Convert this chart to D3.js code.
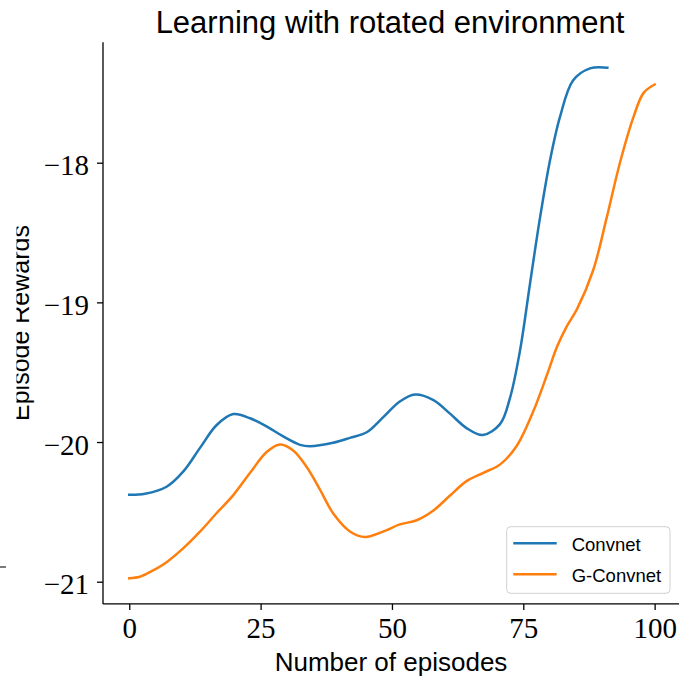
<!DOCTYPE html>
<html>
<head>
<meta charset="utf-8">
<script src="https://cdn.jsdelivr.net/npm/d3@7"></script>
<style>
  html, body { margin: 0; padding: 0; background: #fff; }
  svg { display: block; }
</style>
</head>
<body>
<div id="chart"></div>
<script>
// ---- Data ----
const convnetEpisodes = [0, 3, 7.1, 10.3, 13.5, 16.6, 19.8, 23, 26.2, 29.3, 32.5, 34.4, 38.8, 42, 45.2, 48.4, 51.5, 54.4, 57.9, 61, 64.2, 67.3, 70.6, 72.5, 74.4, 76.3, 78.2, 80.1, 82, 84.5, 87.7, 91];
const convnetRewards  = [-20.377, -20.37, -20.32, -20.21, -20.04, -19.88, -19.80, -19.83, -19.89, -19.96, -20.02, -20.03, -20.005, -19.97, -19.93, -19.82, -19.71, -19.66, -19.70, -19.795, -19.90, -19.95, -19.87, -19.68, -19.34, -18.86, -18.39, -17.98, -17.67, -17.41, -17.325, -17.32];

const gconvEpisodes = [0, 2, 4, 7.1, 10.3, 13.5, 16.6, 19.8, 23, 26.2, 28.7, 31.2, 33.8, 36.3, 38.8, 42, 44.9, 48.4, 51.5, 54.7, 57.9, 61, 64.2, 67.4, 70.6, 73.7, 76.9, 79.5, 81.4, 83.3, 85.2, 88.3, 90.9, 93.4, 96, 97.9, 100];
const gconvRewards  = [-20.976, -20.965, -20.93, -20.86, -20.76, -20.64, -20.51, -20.38, -20.22, -20.07, -20.017, -20.06, -20.18, -20.34, -20.51, -20.64, -20.68, -20.64, -20.59, -20.56, -20.49, -20.385, -20.28, -20.22, -20.16, -20.03, -19.78, -19.52, -19.32, -19.17, -19.05, -18.77, -18.39, -18.0, -17.67, -17.50, -17.44];

const seriesNames  = ["Convnet", "G-Convnet"];
const seriesColors = ["#1f77b4", "#ff7f0e"];
const xTicks = [0, 25, 50, 75, 100];
const yTicks = [-18, -19, -20, -21];

const titleText = "Learning with rotated environment";
const xLabelText = "Number of episodes";
const yLabelText = "Episode Rewards";

// ---- Layout ----
const W = 679, H = 680;
const x = d3.scaleLinear().domain([-5, 105]).range([103, 680.9]);
const y = d3.scaleLinear().domain([-21, -18]).range([581.7, 162.7]);
const yLo = -21.159, yHi = -17.137;

const svg = d3.select("#chart").append("svg")
  .attr("width", W).attr("height", H);

const sans = "'Liberation Sans', Arial, sans-serif";
const serif = "'Liberation Serif', 'Times New Roman', serif";

// Title
svg.append("text")
  .attr("x", 390).attr("y", 33)
  .attr("text-anchor", "middle")
  .attr("font-family", sans).attr("font-size", 31)
  .attr("fill", "#000")
  .text(titleText);

// Lines
const series = [
  { name: seriesNames[0], color: seriesColors[0], data: convnetEpisodes.map((e, i) => [e, convnetRewards[i]]) },
  { name: seriesNames[1], color: seriesColors[1], data: gconvEpisodes.map((e, i) => [e, gconvRewards[i]]) }
];
const line = d3.line()
  .x(d => x(d[0])).y(d => y(d[1]))
  .curve(d3.curveCatmullRom.alpha(0.5));

svg.append("g").selectAll("path").data(series).join("path")
  .attr("d", d => line(d.data))
  .attr("fill", "none")
  .attr("stroke", d => d.color)
  .attr("stroke-width", 2.5)
  .attr("stroke-linecap", "square")
  .attr("stroke-linejoin", "round");

// Axes
const yTop = y(yHi), yBot = y(yLo);
const xAxis = d3.axisBottom(x).tickValues(xTicks).tickSize(6).tickPadding(6).tickFormat(d3.format("d"));
const gx = svg.append("g").attr("transform", `translate(0,${yBot})`).call(xAxis);
gx.select(".domain").attr("d", `M${x(-5)},0H${W + 2}`).attr("stroke", "#000").attr("stroke-width", 1.3);
gx.selectAll(".tick line").attr("stroke", "#000").attr("stroke-width", 1.3);
gx.selectAll(".tick text")
  .attr("font-family", serif).attr("font-size", 29).attr("fill", "#000")
  .attr("dy", null).attr("y", 34);

const yAxis = d3.axisLeft(y).tickValues(yTicks).tickSize(6).tickPadding(8)
  .tickFormat(d => d < 0 ? "\u2212" + Math.abs(d) : String(d));
const gy = svg.append("g").attr("transform", `translate(${x(-5)},0)`).call(yAxis);
gy.select(".domain").attr("d", `M0,${yTop}V${yBot}`).attr("stroke", "#000").attr("stroke-width", 1.3);
gy.selectAll(".tick line").attr("stroke", "#000").attr("stroke-width", 1.3);
gy.selectAll(".tick text")
  .attr("font-family", serif).attr("font-size", 29).attr("fill", "#000")
  .attr("x", -14).attr("dy", "0.42em");

// Axis labels
svg.append("text")
  .attr("x", 391).attr("y", 671)
  .attr("text-anchor", "middle")
  .attr("font-family", sans).attr("font-size", 26)
  .attr("fill", "#000")
  .text(xLabelText);

svg.append("clipPath").attr("id", "ylabclip")
  .append("rect").attr("x", 16.5).attr("y", 0).attr("width", 100).attr("height", H);
svg.append("g").attr("clip-path", "url(#ylabclip)")
  .append("text")
  .attr("transform", `translate(29,${(yTop + yBot) / 2}) rotate(-90)`)
  .attr("text-anchor", "middle")
  .attr("font-family", sans).attr("font-size", 25)
  .attr("fill", "#000")
  .text(yLabelText);

// stray dash at the far left edge, as in the reference
svg.append("line")
  .attr("x1", 0).attr("x2", 6).attr("y1", 567).attr("y2", 567)
  .attr("stroke", "#333").attr("stroke-width", 1.3);

// Legend
const lg = svg.append("g").attr("transform", "translate(506.7,526.7)");
lg.append("rect")
  .attr("width", 163.3).attr("height", 66.6)
  .attr("rx", 4).attr("ry", 4)
  .attr("fill", "#fff").attr("fill-opacity", 0.8)
  .attr("stroke", "#d0d0d0").attr("stroke-width", 1);
series.forEach((s, i) => {
  const cy = 16.6 + i * 31;
  lg.append("line")
    .attr("x1", 6.6).attr("x2", 50).attr("y1", cy).attr("y2", cy)
    .attr("stroke", s.color).attr("stroke-width", 2.5);
  lg.append("text")
    .attr("x", 65).attr("y", cy + 7.5)
    .attr("font-family", sans).attr("font-size", 18.5)
    .attr("fill", "#000")
    .text(s.name);
});
</script>
</body>
</html>
